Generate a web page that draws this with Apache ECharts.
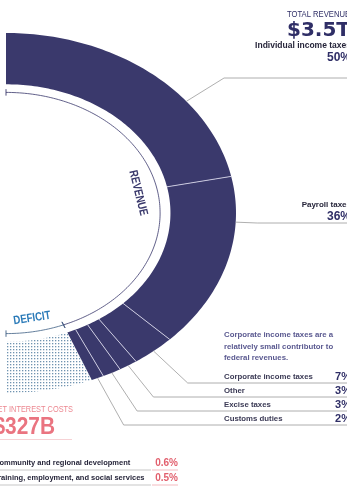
<!DOCTYPE html>
<html>
<head>
<meta charset="utf-8">
<script src="https://cdn.jsdelivr.net/npm/echarts@6/dist/echarts.min.js"></script>
<style>
    html, body { margin: 0; padding: 0; background: #fff; }
    #chart { width: 347px; height: 487px; }
</style>
</head>
<body>
<div id="chart"></div>
<script>
// revenue sources, share of total revenue (%)
var revenue_names = ['Individual income taxes', 'Payroll taxes', 'Corporate income taxes', 'Other', 'Excise taxes', 'Customs duties'];
var revenue_shares = [50, 36, 7, 3, 3, 2];
// deficit, in the same units
var deficit_share = 14;
var ring_groups = ['REVENUE', 'DEFICIT'];
var total_revenue = '$3.5T';
var net_interest = '$327B';
// spending rows at the bottom left
var spending_names = ['Community and regional development', 'Training, employment, and social services'];
var spending_shares = [0.6, 0.5];

var NAVY = '#3a396c', INK = '#2f2e66', GREY_LINE = '#9b9b9b', RED = '#e2606e';
var SANS = '"Liberation Sans", Arial, sans-serif';
var NARROW = 0.8;   // horizontal squeeze for the condensed headings

// ellipse layout (px) - the ring is drawn in unit coordinates on a hidden grid
var W = 347, H = 487, CX = 6, CY = 213, RX = 230, RY = 180;
var R_IN = 0.715, R_ARC = 0.67;
// where each leader leaves its slice (fraction of the slice) and the row it runs to
var leader_pos = [0.66, 0.26, 0.5, 0.5, 0.5, 0.5];
var leader_y = [78, 223, 383, 397, 411, 425];

var CHART = {
    slices: [],
    groups: [],
    init: function(){
        var _this = this;
        _this.build_angles();
        var myChart = echarts.init(document.getElementById('chart'), null, {renderer: 'canvas'});
        myChart.setOption(_this.init_option());
    },
    build_angles: function(){
        var _this = this;
        var total = deficit_share;
        revenue_shares.forEach(function(v){ total += v; });
        var deg = 180 / total, cum = 0;
        revenue_shares.forEach(function(v, i){
            _this.slices.push({name: revenue_names[i], value: [90 - cum * deg, 90 - (cum + v) * deg, i, 0]});
            cum += v;
        });
        var rev_end = 90 - cum * deg;
        _this.slices.push({name: 'Deficit', value: [rev_end, rev_end - deficit_share * deg, 6, 1]});
        _this.groups = [
            {name: ring_groups[0], value: [90, rev_end, 0]},
            {name: ring_groups[1], value: [rev_end, -90, 1]}
        ];
    },
    dot_pattern: function(){
        var c = document.createElement('canvas');
        c.width = 3; c.height = 3;
        var ctx = c.getContext('2d');
        ctx.fillStyle = '#6f93b0';
        ctx.fillRect(1, 1, 1.3, 1.3);
        return {image: c, repeat: 'repeat'};
    },
    pt: function(api, r, a){
        var t = a * Math.PI / 180;
        return api.coord([r * Math.cos(t), r * Math.sin(t)]);
    },
    render_slice: function(params, api){
        var a0 = api.value(0), a1 = api.value(1), idx = api.value(2), deficit = api.value(3);
        var n = Math.max(2, Math.ceil(Math.abs(a0 - a1))), pts = [], k;
        for (k = 0; k <= n; k++) pts.push(CHART.pt(api, 1, a0 + (a1 - a0) * k / n));
        for (k = n; k >= 0; k--) pts.push(CHART.pt(api, R_IN, a0 + (a1 - a0) * k / n));
        var children = [{type: 'polygon', shape: {points: pts},
            style: {fill: deficit ? CHART.pattern : NAVY}}];
        if (idx > 0 && !deficit){
            var p = CHART.pt(api, R_IN, a0), q = CHART.pt(api, 1, a0);
            children.push({type: 'line', shape: {x1: p[0], y1: p[1], x2: q[0], y2: q[1]},
                style: {stroke: '#d4d3e6', lineWidth: 0.9}});
        }
        return {type: 'group', children: children};
    },
    render_leader: function(params, api){
        var a0 = api.value(0), a1 = api.value(1), i = api.value(2);
        var a = a0 + (a1 - a0) * leader_pos[i], ry = leader_y[i];
        var p0 = CHART.pt(api, 1, a), p1 = CHART.pt(api, 1.5, a);
        var k = (ry - p0[1]) / (p1[1] - p0[1]);
        var elbow = [p0[0] + k * (p1[0] - p0[0]), ry];
        return {type: 'polyline', shape: {points: [p0, elbow, [W, ry]]},
            style: {stroke: GREY_LINE, lineWidth: 0.8, fill: null}};
    },
    render_arc: function(params, api){
        var a0 = api.value(0), a1 = api.value(1), g = api.value(2);
        var color = g ? '#3f5f84' : NAVY;
        var n = Math.ceil(Math.abs(a0 - a1)), pts = [];
        for (var k = 0; k <= n; k++) pts.push(CHART.pt(api, R_ARC, a0 + (a1 - a0) * k / n));
        var children = [{type: 'polyline', shape: {points: pts}, style: {stroke: color, lineWidth: 0.8, fill: null}}];
        [a0, a1].forEach(function(a){
            var p = CHART.pt(api, R_ARC - 0.018, a), q = CHART.pt(api, R_ARC + 0.018, a);
            children.push({type: 'line', shape: {x1: p[0], y1: p[1], x2: q[0], y2: q[1]}, style: {stroke: color, lineWidth: 0.9}});
        });
        // group name along the arc
        var mid = (a0 + a1) / 2, r = g ? 0.595 : 0.585;
        var c = CHART.pt(api, r, mid);
        var s = g ? CHART.pt(api, r, mid - 0.5) : CHART.pt(api, r, mid + 0.5);
        var e = g ? CHART.pt(api, r, mid + 0.5) : CHART.pt(api, r, mid - 0.5);
        children.push({type: 'text', x: c[0], y: c[1], scaleX: NARROW,
            rotation: -Math.atan2(e[1] - s[1], e[0] - s[0]),
            style: {text: ring_groups[g], font: 'bold 12px ' + SANS, fill: g ? '#2a7ab8' : NAVY,
                align: 'center', verticalAlign: 'middle'}});
        return {type: 'group', children: children};
    },
    txt: function(x, y, s, font, color, align, sx){
        return {type: 'text', x: x, y: y, silent: true, scaleX: sx || 1,
            style: {text: s, font: font, fill: color, align: align || 'left', verticalAlign: 'middle'}};
    },
    hline: function(x1, x2, y, color){
        return {type: 'line', silent: true, shape: {x1: x1, y1: y, x2: x2, y2: y}, style: {stroke: color, lineWidth: 0.8}};
    },
    init_graphic: function(){
        var _this = this, g = [];
        g.push(_this.txt(287, 14.5, 'TOTAL REVENUE', '9px ' + SANS, INK, 'left', 0.85));
        g.push(_this.txt(287, 30.5, total_revenue, 'bold 20px "DejaVu Sans", sans-serif', INK));

        var pct_y = [57.5, 216.5, 377, 391, 405, 419];
        g.push(_this.txt(351, 46, revenue_names[0], 'bold 8.5px ' + SANS, '#26253a', 'right'));
        g.push(_this.txt(351, 205, revenue_names[1], 'bold 8px ' + SANS, '#26253a', 'right'));
        revenue_shares.forEach(function(v, i){
            var big = i < 2;
            g.push(_this.txt(351, pct_y[i], v + '%', 'bold ' + (big ? 12 : 11) + 'px ' + SANS, INK, 'right'));
            if (!big) g.push(_this.txt(224, pct_y[i], revenue_names[i], 'bold 7.8px ' + SANS, '#3b3a55'));
        });

        ['Corporate income taxes are a', 'relatively small contributor to', 'federal revenues.'].forEach(function(s, i){
            g.push(_this.txt(224, 335 + i * 11.5, s, 'bold 7.8px ' + SANS, '#5a5990'));
        });

        g.push(_this.txt(73, 410, 'NET INTEREST COSTS', '9px ' + SANS, '#ec8790', 'right', 0.82));
        g.push(_this.txt(55, 427, net_interest, 'bold 24px ' + SANS, '#ea7480', 'right', 0.87));
        g.push(_this.hline(0, 72, 439.5, '#f4c6ca'));

        spending_names.forEach(function(s, i){
            var y = 463 + i * 15;
            g.push(_this.txt(-6, y, s, 'bold 7.5px ' + SANS, '#26253a'));
            g.push(_this.txt(178, y, spending_shares[i].toFixed(1) + '%', 'bold 10px ' + SANS, RED, 'right'));
            g.push(_this.hline(0, 151, y + 7, '#b9b9b9'));
            g.push(_this.hline(152, 178, y + 7, '#f0a9b0'));
        });
        return g;
    },
    init_option: function(){
        var _this = this;
        _this.pattern = _this.dot_pattern();
        var option = {
            animation: false,
            grid: {left: 0, right: 0, top: 0, bottom: 0},
            xAxis: {type: 'value', min: -CX / RX, max: (W - CX) / RX, show: false},
            yAxis: {type: 'value', min: -(H - CY) / RY, max: CY / RY, show: false},
            graphic: _this.init_graphic(),
            series: [
                {type: 'custom', name: 'ring', silent: true, clip: false,
                    renderItem: _this.render_slice, data: _this.slices},
                {type: 'custom', name: 'leaders', silent: true, clip: false,
                    renderItem: _this.render_leader, data: _this.slices.slice(0, 6)},
                {type: 'custom', name: 'arcs', silent: true, clip: false,
                    renderItem: _this.render_arc, data: _this.groups}
            ]
        };
        return option;
    }
};

CHART.init();
</script>
</body>
</html>
